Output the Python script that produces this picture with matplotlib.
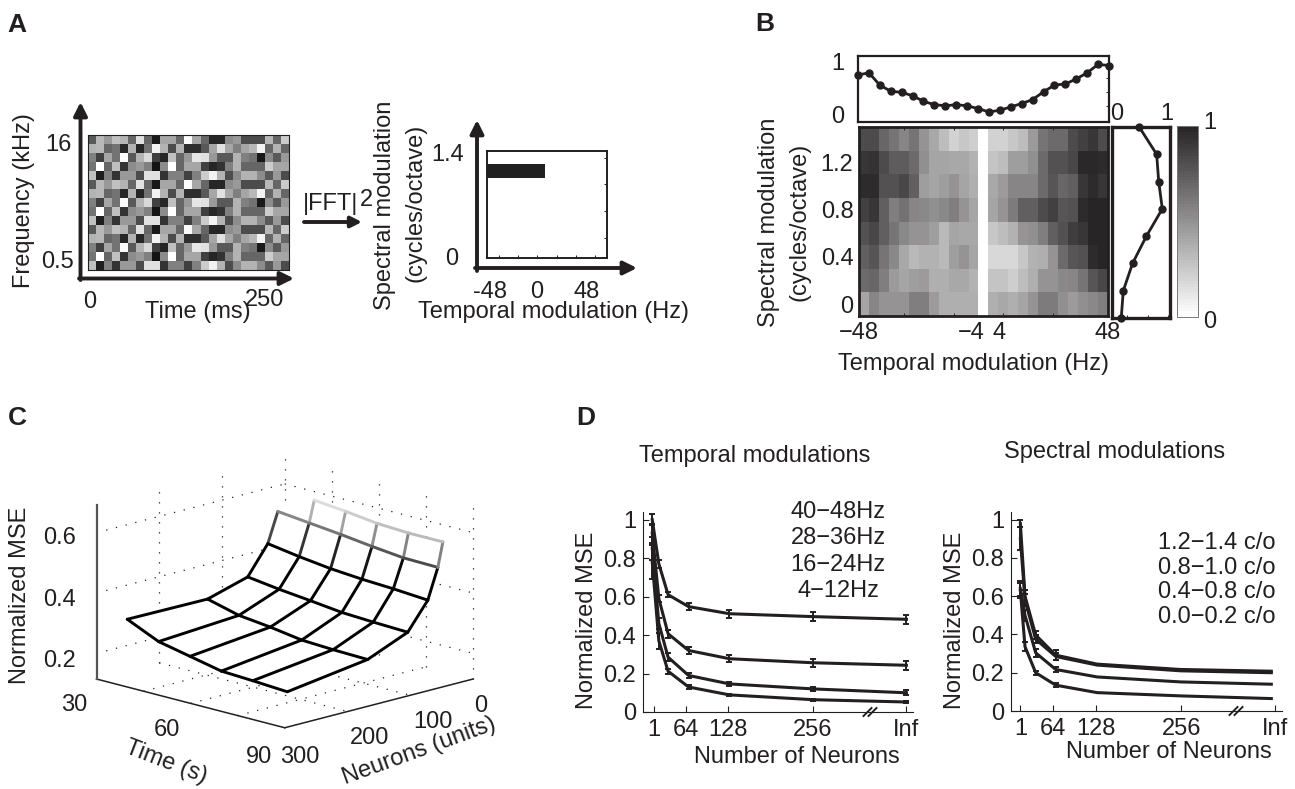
import numpy as np
import matplotlib
matplotlib.use("Agg")
import matplotlib.pyplot as plt
from matplotlib.colors import LinearSegmentedColormap, Normalize

W, H = 1295, 789
INK = "#231f20"
FS = 17

plt.rcParams['font.family'] = ['Liberation Sans', 'DejaVu Sans']
plt.rcParams['font.size'] = FS
plt.rcParams['text.color'] = INK
plt.rcParams['axes.edgecolor'] = INK
plt.rcParams['xtick.color'] = INK
plt.rcParams['ytick.color'] = INK

# panel A, one period of the ripple (grey level of each cell), repeats down the picture
ripple_rows = [
    [.35, .72, .60, .75, .70, .40, .88, .40, .10, .65, .65, .40, .98, .65, .40, .15, .15, .55, .60, .30, .30, .30, .72, .40, .80],
    [.70, .72, .40, .45, .15, .70, .15, .45, .95, .70, .30, .70, .18, .18, .35, .65, .88, .65, .50, .65, .72, .95, .40, .70, .40],
    [.50, .25, .65, .45, .98, .35, .70, .85, .25, .15, .75, .40, .60, .90, .88, .60, .35, .35, .70, .50, .45, .10, .55, .35, .60],
    [.45, 1.0, .40, .75, .20, .55, .60, .50, .08, .55, 1.0, .40, .65, .65, .25, .15, .20, .50, .70, .40, .40, .40, .80, .65, .65],
    [.75, .12, .50, .20, .60, .60, .30, .88, .88, .20, .50, .50, .25, .50, .80, .95, .70, .30, .55, .70, .70, .55, .35, .60, .30],
]
ripple_repeats = 3
fft_row = 6
fft_cols = 12

# panel B, grey levels of the cells, top row first
heat_left = [
    [80, 80, 105, 120, 135, 120, 150, 170, 190, 210, 200, 205],
    [60, 55, 80, 95, 95, 110, 145, 165, 165, 170, 170, 180],
    [50, 48, 85, 85, 75, 100, 160, 165, 160, 150, 165, 175],
    [70, 60, 100, 130, 115, 135, 140, 145, 140, 130, 150, 165],
    [85, 75, 100, 120, 140, 150, 150, 160, 185, 165, 170, 170],
    [100, 90, 120, 140, 170, 185, 180, 180, 185, 160, 150, 165],
    [110, 105, 130, 155, 165, 160, 155, 175, 175, 170, 170, 180],
    [165, 135, 150, 150, 150, 130, 130, 155, 175, 175, 175, 175],
]
heat_right = [
    [210, 210, 200, 190, 155, 120, 110, 110, 80, 70, 60, 80],
    [195, 190, 160, 160, 145, 110, 85, 85, 75, 45, 45, 50],
    [170, 155, 135, 135, 135, 110, 90, 105, 100, 60, 50, 60],
    [165, 150, 125, 100, 100, 80, 70, 90, 85, 50, 40, 40],
    [200, 190, 180, 150, 145, 130, 100, 85, 65, 60, 40, 35],
    [215, 215, 215, 200, 180, 175, 150, 110, 90, 85, 50, 40],
    [195, 195, 205, 190, 175, 150, 150, 140, 135, 120, 90, 75],
    [175, 170, 175, 165, 150, 125, 125, 145, 155, 145, 140, 130],
]
temporal_marginal = [.81, .85, .63, .52, .50, .44, .34, .28, .26, .28, .26, .21,
                     .15, .18, .24, .30, .37, .51, .63, .65, .74, .85, 1.0, .98]
spectral_values = [0, .2, .4, .6, .8, 1.0, 1.2, 1.4]
spectral_marginal = [.08, .12, .30, .57, .88, .81, .77, .43]

# panel C
mesh_time = [31, 41, 51, 61, 71, 82]
mesh_neurons = [256, 128, 64, 32, 16, 8]
mesh_mse = [
    [.292, .245, .223, .201, .196, .189],
    [.290, .263, .251, .235, .230, .227],
    [.329, .315, .304, .292, .287, .283],
    [.422, .406, .393, .385, .380, .372],
    [.520, .509, .498, .485, .474, .472],
    [np.nan, .580, .570, .557, .552, .552],
]

# panel D
left_x = [13, 23, 37, 68, 130, 257, 398]
left_ticks = [16, 64, 128, 256, 398]
left_series = [
    [1.00, .77, .61, .548, .511, .496, .482],
    [.93, .59, .407, .32, .277, .256, .243],
    [.85, .46, .285, .19, .146, .12, .10],
    [.78, .37, .212, .13, .089, .064, .052],
]
left_err = [
    [.03, .02, .012, .02, .02, .022, .025],
    [.05, .02, .02, .02, .018, .02, .022],
    [.06, .03, .02, .012, .012, .012, .012],
    [.09, .04, .012, .008, .006, .006, .006],
]
left_names = ["40\u221248Hz", "28\u221236Hz", "16\u221224Hz", "4\u221212Hz"]

right_x = [15, 22, 38, 68, 130, 255, 391]
right_ticks = [15, 64, 128, 256, 397]
right_series = [
    [.98, .60, .397, .292, .245, .217, .208],
    [.90, .58, .375, .285, .24, .21, .20],
    [.64, .50, .304, .217, .178, .152, .14],
    [.63, .336, .20, .135, .096, .079, .065],
]
right_err = [
    [.02, .03, .02, .025, np.nan, np.nan, np.nan],
    [.06, .03, .02, .02, np.nan, np.nan, np.nan],
    [.04, .03, .02, .015, np.nan, np.nan, np.nan],
    [.04, .025, .01, .012, np.nan, np.nan, np.nan],
]
right_names = ["1.2\u22121.4 c/o", "0.8\u22121.0 c/o", "0.4\u22120.8 c/o", "0.0\u22120.2 c/o"]
y_ticks = [0, .2, .4, .6, .8, 1]
y_labels = ['0', '0.2', '0.4', '0.6', '0.8', '1']


def px_axes(fig, x0, y0, x1, y1, **kw):
    return fig.add_axes([x0 / W, 1 - y1 / H, (x1 - x0) / W, (y1 - y0) / H], **kw)


def arrow(ov, start, end, lw=2.8, size=20):
    ov.annotate("", xy=end, xytext=start,
                arrowprops=dict(arrowstyle="-|>", lw=lw, color=INK, mutation_scale=size,
                                shrinkA=0, shrinkB=0))


def label(ov, x, y, s, **kw):
    kw.setdefault("ha", "center")
    kw.setdefault("va", "center")
    ov.text(x, y, s, **kw)


def panel_a(fig, ov):
    ax = px_axes(fig, 88, 135, 289, 270)
    ripple = np.tile(np.array(ripple_rows), (ripple_repeats, 1))
    ax.imshow(ripple, cmap="gray", vmin=0, vmax=1, aspect="auto", interpolation="nearest")
    ax.set_xticks([])
    ax.set_yticks([])
    for s in ax.spines.values():
        s.set_linewidth(0.8)

    arrow(ov, (80.5, 280), (80.5, 102))
    arrow(ov, (79, 278.5), (294, 278.5))
    label(ov, 24, 201, "Frequency (kHz)", rotation=90)
    label(ov, 58, 145, "16")
    label(ov, 57, 262, "0.5")
    label(ov, 90, 302, "0")
    label(ov, 265, 300, "250")
    label(ov, 198, 312, "Time (ms)")

    ax2 = px_axes(fig, 487, 151, 607, 258)
    power = np.zeros((8, 25))
    power[fft_row, :fft_cols] = 1
    ax2.imshow(power, cmap="gray_r", vmin=0, vmax=1.15, origin="lower", aspect="auto",
               interpolation="nearest")
    ax2.set_xticks(np.arange(2, 25, 4))
    ax2.set_yticks(np.arange(1, 8, 2))
    ax2.set_xticklabels([])
    ax2.set_yticklabels([])
    ax2.tick_params(direction="in", length=2, width=0.7, right=True, left=False)
    for s in ax2.spines.values():
        s.set_linewidth(1.4)

    arrow(ov, (477, 271), (477, 120))
    arrow(ov, (475, 268), (637, 268))
    arrow(ov, (304, 222), (362, 222), lw=2.8, size=16)
    label(ov, 303, 204, "|FFT|", ha="left")
    label(ov, 366, 200, "2")
    label(ov, 385, 205, "Spectral modulation", rotation=90)
    label(ov, 416, 203, "(cycles/octave)", rotation=90)
    label(ov, 448, 155, "1.4")
    label(ov, 452, 259, "0")
    label(ov, 490, 292, "-48")
    label(ov, 537, 292, "0")
    label(ov, 587, 292, "48")
    label(ov, 553, 312, "Temporal modulation (Hz)")


def panel_b(fig, ov):
    cmap = LinearSegmentedColormap.from_list("bar", ["#ffffff", "#282526"], N=64)
    cmap.set_bad("white")
    grey = np.hstack([np.array(heat_left), np.full((8, 1), np.nan), np.array(heat_right)])
    heat = (255 - grey) / 215
    ax = px_axes(fig, 859, 127, 1108, 316)
    im = ax.imshow(heat[::-1], cmap=cmap, vmin=0, vmax=1, origin="lower", aspect="auto",
                   interpolation="nearest")
    ax.set_xticks([-0.5, 10.8, 13.6, 24.5])
    ax.set_xticklabels(["\u221248", "\u22124", "4", "48"])
    ax.set_xticks([4, 9, 14, 19], minor=True)
    ax.set_yticks([0, 2, 4, 6])
    ax.set_yticklabels(['0', '0.4', '0.8', '1.2'])
    ax.tick_params(length=0, pad=4)
    ax.tick_params(which="minor", direction="in", length=2, width=0.7, top=True)
    for s in ax.spines.values():
        s.set_linewidth(2)

    top = px_axes(fig, 858, 56, 1109, 122)
    top.plot(np.arange(24), temporal_marginal, "-o", color=INK, lw=2, ms=5, clip_on=False)
    top.set_xlim(0, 23)
    top.set_ylim(-0.03, 1.15)
    top.set_xticks([])
    top.yaxis.tick_right()
    top.set_yticks([.25, .5, .75, 1])
    top.set_yticklabels([])
    top.tick_params(direction="in", length=2, width=0.7)
    for s in top.spines.values():
        s.set_linewidth(1.6)

    side = px_axes(fig, 1112, 127, 1170, 318)
    side.plot(spectral_marginal, spectral_values, "-o", color=INK, lw=2, ms=5, clip_on=False)
    side.set_xlim(-0.1, 1.03)
    side.set_ylim(0, 1.4)
    side.set_yticks([])
    side.set_xticks([.2, .6, 1])
    side.set_xticklabels([])
    side.tick_params(direction="in", length=2, width=0.7)
    for s in side.spines.values():
        s.set_linewidth(2.4)

    cax = px_axes(fig, 1177, 126, 1198, 317)
    cb = fig.colorbar(im, cax=cax)
    cb.set_ticks([])
    cb.outline.set_linewidth(0.7)
    cb.outline.set_edgecolor("#777777")

    label(ov, 1210, 123, "1")
    label(ov, 1210, 322, "0")
    label(ov, 838, 64, "1")
    label(ov, 838, 117, "0")
    label(ov, 1117, 114, "0")
    label(ov, 1167, 114, "1")
    label(ov, 769, 222, "Spectral modulation", rotation=90)
    label(ov, 800, 222, "(cycles/octave)", rotation=90)
    label(ov, 973, 364, "Temporal modulation (Hz)")


def panel_c(fig, ov):
    ax = px_axes(fig, 28, 349, 528, 849, projection="3d", computed_zorder=False)
    ax.set_proj_type("ortho")
    ax.view_init(elev=15, azim=-45)
    ax.set_box_aspect((1, 1, 0.675), zoom=0.81)
    ax.set_xlim(30, 90)
    ax.set_ylim(300, 0)
    ax.set_zlim(0.115, 0.69)
    ax.set_axis_off()
    ax.patch.set_alpha(0)

    dots = dict(color=INK, lw=0.9, ls=(0, (1, 7)), zorder=1)
    z0, z1 = 0.115, 0.69
    for z in [.2, .4, .6]:
        ax.plot([30, 30], [300, 0], [z, z], **dots)
        ax.plot([30, 90], [0, 0], [z, z], **dots)
    for t in [45, 60, 75]:
        ax.plot([t, t], [0, 0], [z0, z1], **dots)
        ax.plot([t, t], [300, 0], [z0, z0], **dots)
    for n in [100, 200]:
        ax.plot([30, 30], [n, n], [z0, z1], **dots)
        ax.plot([30, 90], [n, n], [z0, z0], **dots)
    ax.plot([30, 30], [0, 0], [z0, z1], **dots)
    ax.plot([90, 90], [0, 0], [z0, z1], **dots)

    solid = dict(color=INK, lw=1.1, zorder=1)
    ax.plot([30, 90], [300, 300], [z0, z0], **solid)
    ax.plot([90, 90], [300, 0], [z0, z0], **solid)
    ax.plot([30, 30], [300, 300], [z0, z1], color="#555555", lw=1.6, zorder=1)

    T, N = np.meshgrid(mesh_time, mesh_neurons)
    Z = np.array(mesh_mse)
    ax.plot_surface(T, N, Z, color="white", shade=False, linewidth=0, antialiased=False, zorder=2)

    shade = plt.get_cmap("gray")
    norm = Normalize(0.42, 0.60)
    for r in range(Z.shape[0]):
        for c in range(Z.shape[1]):
            for r2, c2 in [(r + 1, c), (r, c + 1)]:
                if r2 >= Z.shape[0] or c2 >= Z.shape[1]:
                    continue
                if np.isnan(Z[r, c]) or np.isnan(Z[r2, c2]):
                    continue
                colour = shade(norm((Z[r, c] + Z[r2, c2]) / 2))
                ax.plot([T[r, c], T[r2, c2]], [N[r, c], N[r2, c2]], [Z[r, c], Z[r2, c2]],
                        color=colour, lw=2.1, zorder=3, solid_capstyle="round")

    label(ov, 20, 595, "Normalized MSE", rotation=90)
    label(ov, 60, 538, "0.6")
    label(ov, 60, 600, "0.4")
    label(ov, 60, 661, "0.2")
    label(ov, 74, 705, "30")
    label(ov, 167, 730, "60")
    label(ov, 259, 757, "90")
    label(ov, 300, 757, "300")
    label(ov, 370, 738, "200")
    label(ov, 433, 722, "100")
    label(ov, 481, 706, "0")
    label(ov, 166, 762, "Time (s)", rotation=-21)
    label(ov, 419, 751, "Neurons (units)", rotation=20)


def decay_axes(fig, rect, xs, series, errs, ticks, xlim):
    ax = px_axes(fig, *rect)
    for ys, es in zip(series, errs):
        ax.errorbar(xs, ys, yerr=es, color=INK, lw=2.2, elinewidth=1.4, capsize=2,
                    capthick=1.4, clip_on=False)
    ax.set_xlim(*xlim)
    ax.set_ylim(0, 1.04)
    ax.set_xticks(ticks)
    ax.set_xticklabels(['1', '64', '128', '256', 'Inf'])
    ax.set_yticks(y_ticks)
    ax.set_yticklabels(y_labels)
    ax.tick_params(direction="in", length=4, width=0.8, pad=5)
    ax.spines["top"].set_visible(False)
    ax.spines["right"].set_visible(False)
    ax.patch.set_alpha(0)
    return ax


def panel_d(fig, ov):
    decay_axes(fig, (643, 512, 913, 712), left_x, left_series, left_err, left_ticks, (-1, 408))
    decay_axes(fig, (1011, 512, 1282, 711), right_x, right_series, right_err, right_ticks, (1, 407))

    label(ov, 755, 456, "Temporal modulations")
    label(ov, 1115, 452, "Spectral modulations")
    label(ov, 587, 620, "Normalized MSE", rotation=90)
    label(ov, 955, 620, "Normalized MSE", rotation=90)
    label(ov, 797, 757, "Number of Neurons")
    label(ov, 1169, 752, "Number of Neurons")
    for y, name in zip([512, 538, 565, 591], left_names):
        label(ov, 838, y, name)
    for y, name in zip([543, 568, 592, 617], right_names):
        label(ov, 1217, y, name)
    for cx, cy in [(870, 712), (1236, 711)]:
        for dx in (-2.5, 2.5):
            ov.plot([cx + dx - 4, cx + dx + 4], [cy + 4, cy - 4], color=INK, lw=1.4)


fig = plt.figure(figsize=(W / 100, H / 100), dpi=100)
ov = fig.add_axes([0, 0, 1, 1], zorder=10)
ov.set_xlim(0, W)
ov.set_ylim(H, 0)
ov.axis("off")
ov.patch.set_alpha(0)

panel_a(fig, ov)
panel_b(fig, ov)
panel_c(fig, ov)
panel_d(fig, ov)

for x, y, s in [(17, 25, "A"), (765, 24, "B"), (17, 418, "C"), (586, 418, "D")]:
    ov.text(x, y, s, fontsize=19, fontweight="bold", ha="center", va="center")

fig.savefig("out.png", dpi=100)
